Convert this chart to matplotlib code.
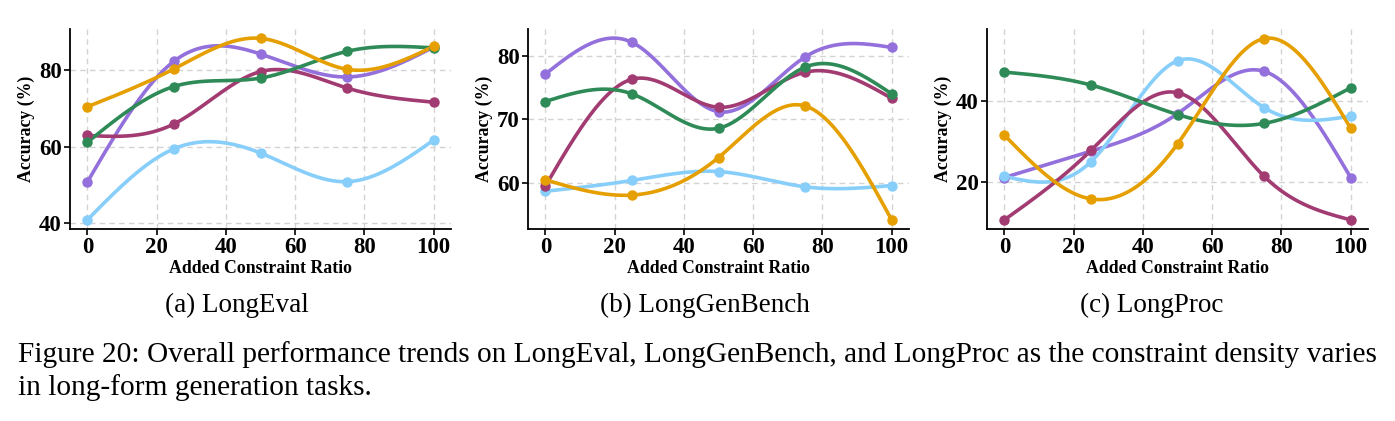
import numpy as np
import matplotlib
matplotlib.use("Agg")
import matplotlib.pyplot as plt

plt.rcParams['font.family'] = ['Liberation Serif', 'DejaVu Serif']

ratios = [0, 25, 50, 75, 100]

# LongEval
eval_purple = [50.8, 82.4, 84.3, 78.3, 86.1]
eval_blue = [40.9, 59.5, 58.4, 50.9, 61.8]
eval_magenta = [63.0, 66.0, 79.7, 75.4, 71.7]
eval_green = [61.2, 75.8, 78.0, 85.0, 85.9]
eval_orange = [70.5, 80.4, 88.4, 80.3, 86.3]

# LongGenBench
gen_purple = [77.1, 82.1, 71.2, 79.8, 81.3]
gen_blue = [58.7, 60.4, 61.8, 59.4, 59.6]
gen_magenta = [59.5, 76.3, 71.9, 77.4, 73.3]
gen_green = [72.8, 74.0, 68.6, 78.2, 74.0]
gen_orange = [60.5, 58.1, 64.0, 72.1, 54.2]

# LongProc
proc_purple = [21.1, 27.6, 36.9, 47.4, 21.1]
proc_blue = [21.4, 25.0, 50.0, 38.4, 36.3]
proc_magenta = [10.6, 27.8, 42.1, 21.4, 10.6]
proc_green = [47.2, 44.0, 36.7, 34.5, 43.3]
proc_orange = [31.6, 15.8, 29.4, 55.5, 33.3]

colors = ['#9370DB', '#87CEFA', '#A23B72', '#2E8B57', '#E69F00']
subtitles = ['(a) LongEval', '(b) LongGenBench', '(c) LongProc']
sub_x = [237, 705, 1152]
panels = [
    [eval_purple, eval_blue, eval_magenta, eval_green, eval_orange],
    [gen_purple, gen_blue, gen_magenta, gen_green, gen_orange],
    [proc_purple, proc_blue, proc_magenta, proc_green, proc_orange],
]
yticks = [[40, 60, 80], [60, 70, 80], [20, 40]]


def spline(x, y, n=300):
    # natural cubic spline through the points, only for drawing the smooth line
    x = np.asarray(x, float)
    y = np.asarray(y, float)
    m = len(x) - 1
    h = np.diff(x)
    A = np.zeros((m + 1, m + 1))
    b = np.zeros(m + 1)
    A[0, 0] = 1
    A[m, m] = 1
    for i in range(1, m):
        A[i, i - 1] = h[i - 1]
        A[i, i] = 2 * (h[i - 1] + h[i])
        A[i, i + 1] = h[i]
        b[i] = 6 * ((y[i + 1] - y[i]) / h[i] - (y[i] - y[i - 1]) / h[i - 1])
    M = np.linalg.solve(A, b)
    xs = np.linspace(x[0], x[-1], n)
    idx = np.clip(np.searchsorted(x, xs, side='right') - 1, 0, m - 1)
    x0, x1 = x[idx], x[idx + 1]
    hh = h[idx]
    ys = (M[idx] * (x1 - xs) ** 3 / (6 * hh) + M[idx + 1] * (xs - x0) ** 3 / (6 * hh)
          + (y[idx] / hh - M[idx] * hh / 6) * (x1 - xs)
          + (y[idx + 1] / hh - M[idx + 1] * hh / 6) * (xs - x0))
    return xs, ys


fig = plt.figure(figsize=(13.95, 4.21), dpi=100)
lefts = [70, 528, 987]
width = 381
for k in range(3):
    ax = fig.add_axes([lefts[k] / 1395, 1 - 229 / 421, width / 1395, 200 / 421])
    for vals, col in zip(panels[k], colors):
        xs, ys = spline(ratios, vals)
        ax.plot(xs, ys, color=col, lw=2.6, zorder=3)
        ax.plot(ratios, vals, 'o', color=col, ms=6.5, zorder=4)
    ax.set_xlim(-5, 105)
    ax.set_xticks([0, 20, 40, 60, 80, 100])
    ax.set_yticks(yticks[k])
    ax.grid(True, ls='--', color='#d3d3d3', lw=1.0, dashes=(4, 3))
    ax.set_axisbelow(True)
    for s in ['top', 'right']:
        ax.spines[s].set_visible(False)
    for s in ['left', 'bottom']:
        ax.spines[s].set_linewidth(1.3)
    ax.tick_params(labelsize=16.5, width=1.2, length=4, pad=2)
    for t in ax.get_xticklabels() + ax.get_yticklabels():
        t.set_fontweight('bold')
    ax.set_xlabel('Added Constraint Ratio', fontsize=12.8, fontweight='bold', labelpad=1)
    ax.set_ylabel('Accuracy (%)', fontsize=12.8, fontweight='bold', labelpad=3)
    fig.text(sub_x[k] / 1395, 1 - 305 / 421, subtitles[k],
             ha='center', va='center', fontsize=19.5)

fig.text(18 / 1395, 1 - 355 / 421,
         'Figure 20: Overall performance trends on LongEval, LongGenBench, and LongProc as the constraint density varies',
         ha='left', va='center', fontsize=21.2)
fig.text(18 / 1395, 1 - 388 / 421, 'in long-form generation tasks.',
         ha='left', va='center', fontsize=21.2)

fig.savefig('out.png', dpi=100)
